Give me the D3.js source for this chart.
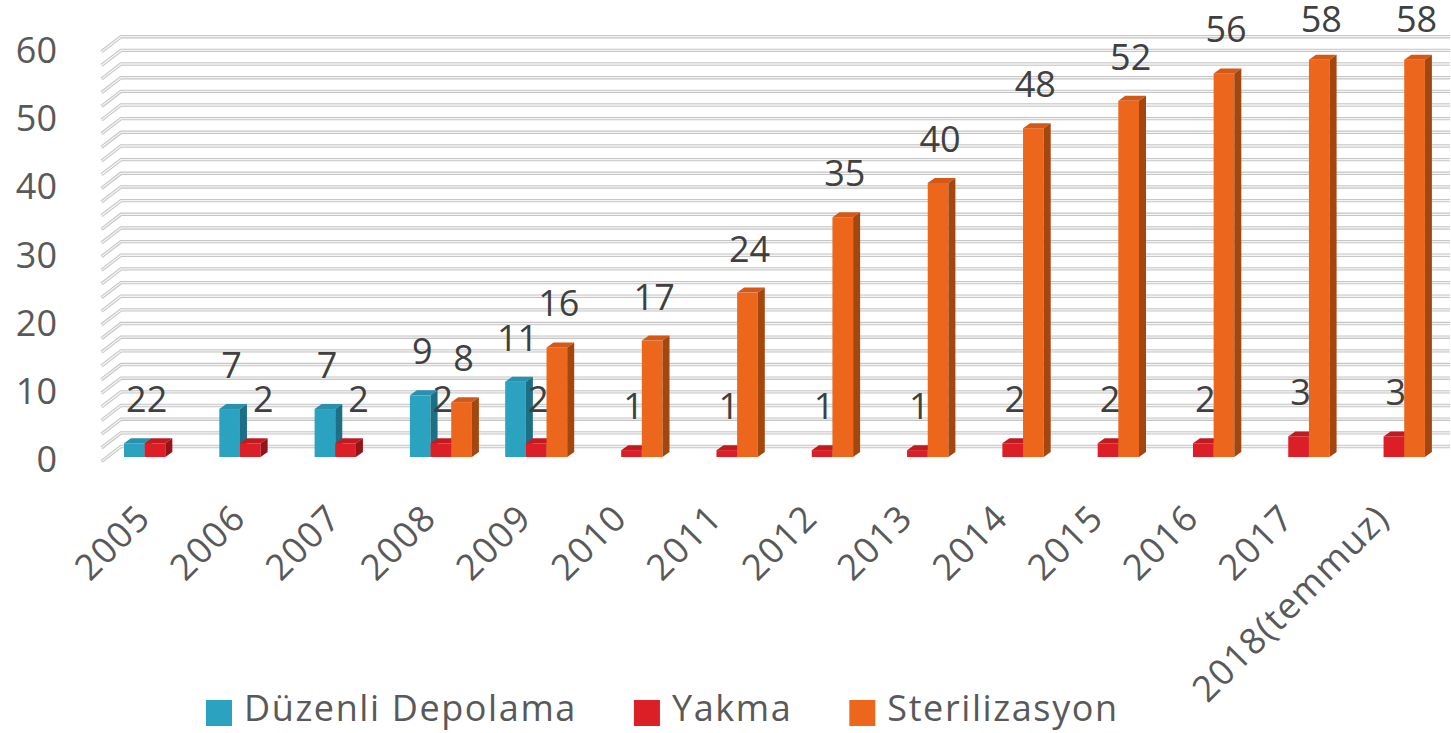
<!DOCTYPE html>
<html>
<head>
<meta charset="utf-8">
<script src="https://cdn.jsdelivr.net/npm/d3@7"></script>
<style>
  body { margin: 0; background: #fff; }
  svg { display: block; font-family: 'Open Sans', sans-serif; }
</style>
</head>
<body>
<div id="chart"></div>
<script>
const width = 1451;
const height = 733;

const years = ['2005', '2006', '2007', '2008', '2009', '2010', '2011', '2012', '2013', '2014', '2015', '2016', '2017', '2018(temmuz)'];
const seriesNames = ['Düzenli Depolama', 'Yakma', 'Sterilizasyon'];
const depolama = [2, 7, 7, 9, 11, null, null, null, null, null, null, null, null, null];
const yakma = [2, 2, 2, 2, 2, 1, 1, 1, 1, 2, 2, 2, 3, 3];
const sterilizasyon = [null, null, null, 8, 16, 17, 24, 35, 40, 48, 52, 56, 58, 58];
const yTicks = [0, 10, 20, 30, 40, 50, 60];

// front, top, side shades for each series
const colors = {
    'Düzenli Depolama': ['#2ca2c1', '#2891ad', '#1d6f86'],
    'Yakma': ['#dc1f27', '#c11b22', '#951419'],
    'Sterilizasyon': ['#ec661c', '#d45917', '#a3470f'],
};

const seriesValues = [depolama, yakma, sterilizasyon];
const bars = [];
years.forEach((year, i) => {
    seriesNames.forEach((name, s) => {
        const v = seriesValues[s][i];
        if (v != null) {
            bars.push({
                year,
                name,
                value: v,
                left: s > 0 ? seriesValues[s - 1][i] : null,
                right: s < 2 ? seriesValues[s + 1][i] : null,
            });
        }
    });
});

const depthX = 7;
const depthY = 5;

const svg = d3.select('#chart')
    .append('svg')
    .attr('width', width)
    .attr('height', height);

const x0 = d3.scaleBand()
    .domain(years)
    .range([108, 108 + 14 * 95.3]);

const x1 = d3.scaleBand()
    .domain(seriesNames)
    .range([16, 78]);

// bars sit in the middle of the depth, the wall sits behind them
const y = d3.scaleLinear().domain([0, 60]).range([457, 46]);
const yBack = d3.scaleLinear().domain([0, 60]).range([446.5, 36.7]);
const yLabel = d3.scaleLinear().domain([0, 60]).range([459, 50]);

// grid on the back wall and the left side wall
const grid = svg.append('g').attr('class', 'grid');
const gridLines = grid.selectAll('path')
    .data(yBack.ticks(30))
    .enter();

gridLines.append('path')
    .attr('d', (d) => `M101.5,${yBack(d) + 15}L121,${yBack(d)}L1450,${yBack(d)}`)
    .attr('fill', 'none')
    .attr('stroke', '#c6c6c6')
    .attr('stroke-width', 3.4);

gridLines.append('path')
    .attr('d', (d) => `M101.5,${yBack(d) + 15}L121,${yBack(d)}L1450,${yBack(d)}`)
    .attr('fill', 'none')
    .attr('stroke', '#f4f4f4')
    .attr('stroke-width', 1.3);

// y axis labels
svg.append('g')
    .attr('class', 'yAxis')
    .attr('transform', 'translate(57,1)')
    .call(d3.axisLeft(yLabel).tickValues(yTicks).tickSize(0).tickPadding(0))
    .call((g) => g.select('.domain').remove())
    .selectAll('text')
    .style('font-size', '36px')
    .style('font-family', "'Open Sans', sans-serif")
    .attr('fill', '#595959');

// x axis labels
svg.append('g')
    .attr('class', 'xAxis')
    .call(d3.axisBottom(x0).tickSize(0))
    .call((g) => g.select('.domain').remove())
    .selectAll('text')
    .attr('y', 0)
    .attr('dy', 0)
    .attr('transform', (d) => `translate(${x0(d) + 47.5 - 3},520) rotate(-45)`)
    .style('text-anchor', 'end')
    .style('font-size', '36px')
    .style('letter-spacing', '1.5px')
    .style('font-family', "'Open Sans', sans-serif")
    .attr('fill', '#595959');

svg.select('.xAxis').selectAll('.tick').attr('transform', null);

// 3d bars
const barG = svg.append('g').attr('class', 'bars')
    .selectAll('g')
    .data(bars)
    .enter()
    .append('g');

const bx = (d) => x0(d.year) + x1(d.name);
const bw = x1.bandwidth();

barG.append('rect')
    .attr('x', bx)
    .attr('y', (d) => y(d.value))
    .attr('width', bw)
    .attr('height', (d) => y(0) - y(d.value))
    .attr('fill', (d) => colors[d.name][0]);

barG.append('path')
    .attr('d', (d) => {
        const x = bx(d);
        const t = y(d.value);
        return `M${x},${t}L${x + bw},${t}L${x + bw + depthX},${t - depthY}L${x + depthX},${t - depthY}Z`;
    })
    .attr('fill', (d) => colors[d.name][1]);

barG.append('path')
    .attr('d', (d) => {
        const x = bx(d) + bw;
        const t = y(d.value);
        const b = y(0);
        return `M${x},${t}L${x + depthX},${t - depthY}L${x + depthX},${b - depthY}L${x},${b}Z`;
    })
    .attr('fill', (d) => colors[d.name][2]);

// data labels, nudged right when a taller bar on the left would hide them
const labelY = (d) => Math.max(32, y(d.value) - 31);
const labelX = (d) => {
    let x = bx(d) + bw / 2 + 2;
    if (d.left != null && y(d.left) < labelY(d) && d.right == null) x += 11;
    return x;
};

svg.append('g').attr('class', 'labels')
    .selectAll('text')
    .data(bars)
    .enter()
    .append('text')
    .attr('x', labelX)
    .attr('y', labelY)
    .text((d) => d.value)
    .style('font-size', '36px')
    .style('text-anchor', 'middle')
    .attr('fill', '#404040');

// legend
const legend = svg.append('g').attr('class', 'legend');
let lx = 206;
seriesNames.forEach((name) => {
    legend.append('rect')
        .attr('x', lx)
        .attr('y', 700)
        .attr('width', 26)
        .attr('height', 26)
        .attr('fill', colors[name][0]);
    const t = legend.append('text')
        .attr('x', lx + 38)
        .attr('y', 721)
        .text(name)
        .style('font-size', '36px')
        .style('letter-spacing', '1.6px')
        .attr('fill', '#595959');
    lx += 38 + t.node().getComputedTextLength() + 57;
});
</script>
</body>
</html>
